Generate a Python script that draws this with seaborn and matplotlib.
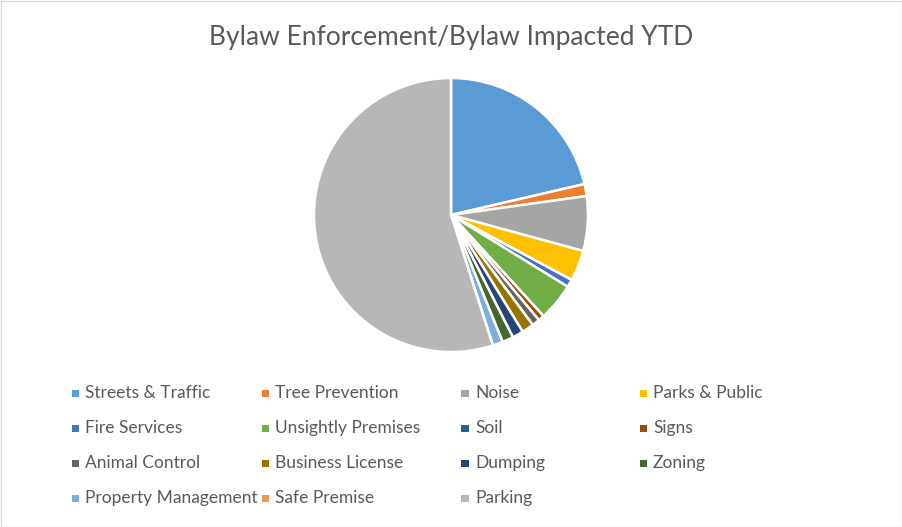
import matplotlib
matplotlib.use("Agg")
import matplotlib.pyplot as plt
from matplotlib.patches import Rectangle
import seaborn as sns

categories = ["Streets & Traffic", "Tree Prevention", "Noise", "Parks & Public",
              "Fire Services", "Unsightly Premises", "Soil", "Signs",
              "Animal Control", "Business License", "Dumping", "Zoning",
              "Property Management", "Safe Premise", "Parking"]
values = [212, 14, 64, 36, 9, 44, 0, 7, 9, 14, 13, 13, 12, 0, 545]
colors = ["#5B9BD5", "#ED7D31", "#A5A5A5", "#FFC000", "#4472C4", "#70AD47",
          "#255E91", "#9E480E", "#636363", "#997300", "#264478", "#43682B",
          "#7CAFDD", "#F1975A", "#B7B7B7"]
title = "Bylaw Enforcement/Bylaw Impacted YTD"

sns.set_theme(style="white")
plt.rcParams['font.family'] = ['Lato', 'DejaVu Sans']

W, H = 902, 527
fig = plt.figure(figsize=(W / 100, H / 100), dpi=100)
fig.patch.set_facecolor("white")

cx, cy, r = 451, 215, 137
ax = fig.add_axes([(cx - r) / W, 1 - (cy + r) / H, 2 * r / W, 2 * r / H])
ax.pie(values, colors=colors, startangle=90, counterclock=False,
       wedgeprops=dict(edgecolor="white", linewidth=1.8))
ax.set_xlim(-1.0, 1.0)
ax.set_ylim(-1.0, 1.0)
ax.set_aspect("equal")
ax.axis("off")

fig.text(0.5, 1 - 38 / H, title, ha="center", va="center",
         fontsize=19, color="#595959")

# legend, 4 columns
col_x = [75, 265, 465, 643]
row_y = [393, 428, 463, 498]
for i, (lab, col) in enumerate(zip(categories, colors)):
    rr, cc = divmod(i, 4)
    x, y = col_x[cc], row_y[rr]
    fig.patches.append(Rectangle(((x - 3.5) / W, 1 - (y + 3.5) / H), 7 / W, 7 / H,
                                 transform=fig.transFigure, facecolor=col,
                                 edgecolor="none"))
    fig.text((x + 10) / W, 1 - y / H, lab, ha="left", va="center",
             fontsize=12.5, color="#595959")

fig.patches.append(Rectangle((0.5 / W, 0.5 / H), 1 - 1 / W, 1 - 1 / H,
                             transform=fig.transFigure, facecolor="none",
                             edgecolor="#D9D9D9", linewidth=1))

fig.savefig("out.png", dpi=100, facecolor="white")
